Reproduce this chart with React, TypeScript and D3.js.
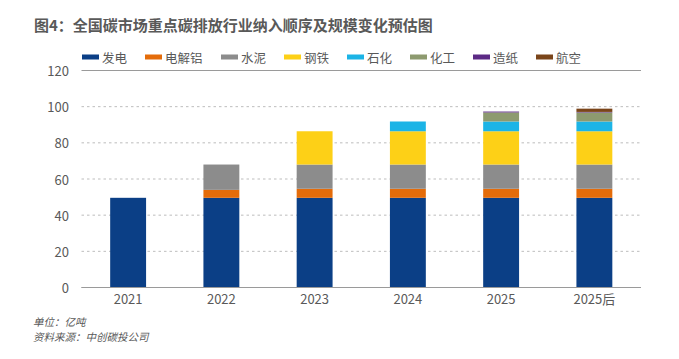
import React from "react";
import * as d3 from "d3";

const categories = ["2021", "2022", "2023", "2024", "2025", "2025后"];
const seriesNames = ["发电", "电解铝", "水泥", "钢铁", "石化", "化工", "造纸", "航空"];
const seriesColors = ["#0b3f86", "#e46c0a", "#8c8c8c", "#fdd017", "#1cb4e6", "#8d9a6f", "#5c2a85", "#7a451a"];
const power = [49.6, 49.6, 49.6, 49.6, 49.6, 49.6];
const aluminum = [0, 4.4, 5, 5, 5, 5];
const cement = [0, 14, 13.4, 13.4, 13.4, 13.4];
const steel = [0, 0, 18.4, 18.4, 18.4, 18.4];
const petro = [0, 0, 0, 5.4, 5.4, 5.4];
const chemical = [0, 0, 0, 0, 5, 5];
const paper = [0, 0, 0, 0, 0.5, 0.3];
const aviation = [0, 0, 0, 0, 0, 1.8];
const yTicks = [0, 20, 40, 60, 80, 100, 120];
const title = "图4：全国碳市场重点碳排放行业纳入顺序及规模变化预估图";
const unitNote = "单位：亿吨";
const sourceNote = "资料来源：中创碳投公司";

const seriesValues = [power, aluminum, cement, steel, petro, chemical, paper, aviation];

export default function App() {
  const W = 679, H = 359;
  const left = 81.5, right = 641, top = 70.5, bottom = 287.5;
  const x = d3.scaleBand<string>().domain(categories).range([left, right]).paddingInner(0.615).paddingOuter(0.3075);
  const y = d3.scaleLinear().domain([0, 120]).range([bottom, top]);
  const rows = categories.map((c, i) => {
    const r: any = { cat: c };
    seriesNames.forEach((s, j) => (r[s] = seriesValues[j][i]));
    return r;
  });
  const stacked = d3.stack<any>().keys(seriesNames)(rows);
  const font = "'Noto Sans CJK SC', 'Noto Sans', sans-serif";
  const textColor = "#595959";

  let lx = 82;
  const legendItems = seriesNames.map((s, i) => {
    const item = { s, x: lx, c: seriesColors[i] };
    lx += 20 + s.length * 13 + 17;
    return item;
  });

  return (
    <svg width={W} height={H} style={{ position: "absolute", left: 0, top: 0, background: "#fff" }} fontFamily={font}>
      <text x={34} y={31} fontSize={15} fontWeight="bold" fill="#595959">{title}</text>
      {legendItems.map((it) => (
        <g key={it.s}>
          <rect x={it.x} y={54.5} width={17} height={5} fill={it.c} />
          <text x={it.x + 20} y={57} dominantBaseline="central" fontSize={12.5} fill={textColor}>{it.s}</text>
        </g>
      ))}
      {yTicks.map((t) => (
        <g key={t}>
          <line
            x1={left}
            x2={right}
            y1={y(t)}
            y2={y(t)}
            stroke={t === 0 || t === 120 ? "#9a9a9a" : "#bdbdbd"}
            strokeWidth={t === 0 || t === 120 ? 1.2 : 1}
            strokeDasharray={t === 0 || t === 120 ? undefined : "2.5,3"}
          />
          <text x={69} y={y(t)} textAnchor="end" dominantBaseline="central" fontSize={13} fill={textColor}>{t}</text>
        </g>
      ))}
      {stacked.map((layer, j) => (
        <g key={layer.key} fill={seriesColors[j]}>
          {layer.map((d, i) => {
            const h = y(d[0]) - y(d[1]);
            if (h <= 0) return null;
            return <rect key={i} x={x(categories[i])} y={y(d[1])} width={x.bandwidth()} height={h} />;
          })}
        </g>
      ))}
      <line x1={left} x2={right} y1={y(0)} y2={y(0)} stroke="#9a9a9a" strokeWidth={1.2} />
      {categories.map((c) => (
        <text key={c} x={(x(c) as number) + x.bandwidth() / 2} y={298.5} textAnchor="middle" dominantBaseline="central" fontSize={13} fill={textColor}>{c}</text>
      ))}
      <text x={33} y={321} dominantBaseline="central" fontSize={10.5} fontStyle="italic" fill={textColor}>{unitNote}</text>
      <text x={33} y={336} dominantBaseline="central" fontSize={10.5} fontStyle="italic" fill={textColor}>{sourceNote}</text>
    </svg>
  );
}
